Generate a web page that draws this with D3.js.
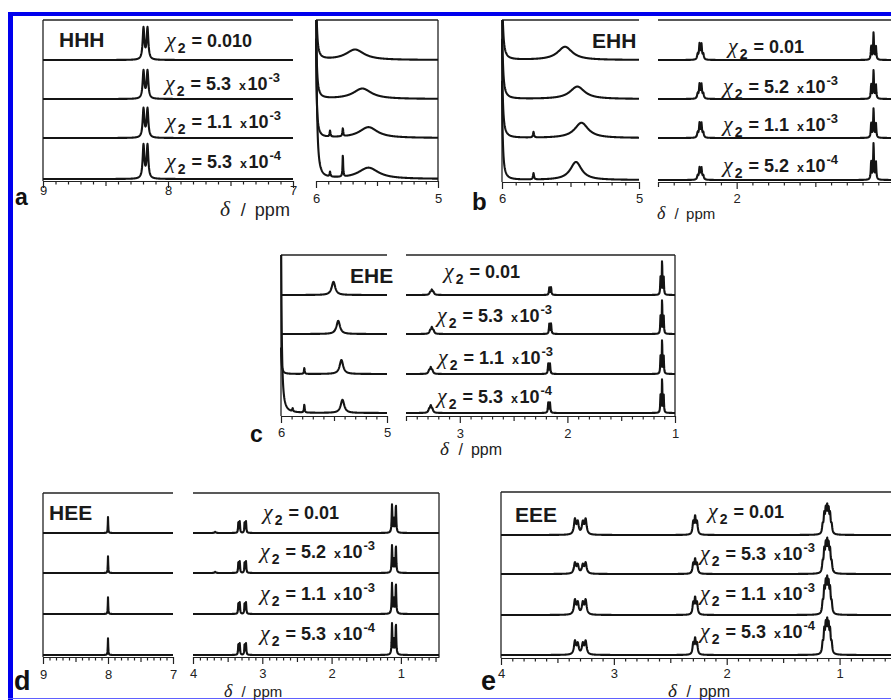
<!DOCTYPE html>
<html>
<head>
<meta charset="utf-8">
<script src="https://cdn.jsdelivr.net/npm/d3@7"></script>
<style>
body { margin: 0; background: #fff; }
svg { display: block; }
.trace { fill: none; stroke: #141414; stroke-width: 2.1; stroke-linejoin: round; }
.frame { stroke: #222; stroke-width: 1.3; fill: none; }
.axis path, .axis line { stroke: #222; stroke-width: 1.2; }
.axis text { font-family: "Liberation Sans", Arial, sans-serif; font-size: 13px; fill: #222; }
.name { font-family: "Liberation Sans", Arial, sans-serif; font-weight: bold; font-size: 21px; fill: #1a1a1a; }
.chi { font-family: "Liberation Sans", Arial, sans-serif; font-weight: bold; font-size: 18px; fill: #1a1a1a; }
.chiSym { font-family: "Liberation Serif", "DejaVu Serif", serif; font-style: italic; font-weight: normal; font-size: 22px; }
.letter { font-family: "Liberation Sans", Arial, sans-serif; font-weight: bold; fill: #111; }
.unit { font-family: "Liberation Sans", Arial, sans-serif; fill: #222; }
.delta { font-family: "Liberation Serif", "DejaVu Serif", serif; font-style: italic; }
</style>
</head>
<body>
<svg id="chart" width="891" height="700"></svg>
<script>
// multiplet line patterns: [offset in ppm, relative intensity]
const patterns = {
  s: [[0, 1]],
  d: [[-0.016, 1], [0.016, 1]],
  pair: [[-0.008, 1], [0.008, 1]],
  q: [[-0.018, 1], [-0.006, 3], [0.006, 3], [0.018, 1]],
  t: [[-0.015, 1], [0, 2], [0.015, 1]],
  t3: [[-0.017, 0.7], [0, 1], [0.017, 0.7]],
  m4: [[-0.05, 1], [-0.025, 0.8], [0.02, 0.8], [0.045, 1]],
  m5: [[-0.04, 0.35], [-0.026, 0.75], [-0.013, 0.9], [0, 1], [0.013, 0.9], [0.026, 0.75], [0.04, 0.35]],
  qq: [[-0.055, 1], [-0.035, 1], [0.035, 1], [0.055, 1]],
  tt: [[-0.028, 1.5], [0, 0.7], [0.028, 1.5]]
};

// peaks per trace: [ppm, height (fraction of strip), half width (ppm), pattern]
// a  HHH
const hhhLow = [
  [[8.18, 0.83, 0.008, "d"]],
  [[8.18, 0.73, 0.008, "d"]],
  [[8.18, 0.76, 0.008, "d"]],
  [[8.18, 0.88, 0.008, "d"]]
];
const hhhVinyl = [
  [[6.01, 30, 0.003, "s"], [5.68, 0.26, 0.09, "s"]],
  [[6.01, 30, 0.003, "s"], [5.62, 0.26, 0.09, "s"]],
  [[6.01, 30, 0.003, "s"], [5.885, 0.15, 0.004, "s"], [5.78, 0.2, 0.004, "s"], [5.57, 0.27, 0.09, "s"]],
  [[6.01, 40, 0.004, "s"], [5.885, 0.12, 0.004, "s"], [5.78, 0.55, 0.003, "s"], [5.57, 0.28, 0.1, "s"]]
];
// b  EHH
const ehhVinyl = [
  [[6.01, 30, 0.003, "s"], [5.54, 0.33, 0.065, "s"]],
  [[6.01, 30, 0.003, "s"], [5.45, 0.31, 0.065, "s"]],
  [[6.01, 30, 0.003, "s"], [5.77, 0.14, 0.004, "s"], [5.42, 0.38, 0.06, "s"]],
  [[6.01, 30, 0.003, "s"], [5.77, 0.16, 0.004, "s"], [5.46, 0.45, 0.05, "s"]]
];
const ehhAlkyl = [
  [[2.23, 0.43, 0.004, "q"], [1.13, 0.70, 0.003, "t"]],
  [[2.23, 0.40, 0.004, "q"], [1.13, 0.73, 0.003, "t"]],
  [[2.23, 0.40, 0.004, "q"], [1.13, 0.75, 0.003, "t"]],
  [[2.23, 0.33, 0.004, "q"], [1.13, 0.93, 0.003, "t"]]
];
// c  EHE
const eheVinyl = [
  [[5.505, 0.33, 0.02, "s"]],
  [[5.46, 0.33, 0.02, "s"]],
  [[6.01, 8, 0.003, "s"], [5.78, 0.15, 0.004, "s"], [5.43, 0.35, 0.02, "s"]],
  [[6.01, 40, 0.004, "s"], [5.89, 0.08, 0.004, "s"], [5.78, 0.2, 0.004, "s"], [5.42, 0.33, 0.02, "s"]]
];
const eheAlkyl = [
  [[3.26, 0.14, 0.008, "t"], [2.16, 0.2, 0.004, "pair"], [1.12, 0.9, 0.003, "t"]],
  [[3.26, 0.18, 0.008, "t"], [2.16, 0.27, 0.004, "pair"], [1.12, 0.9, 0.003, "t"]],
  [[3.27, 0.18, 0.008, "t"], [2.17, 0.27, 0.004, "pair"], [1.12, 0.9, 0.003, "t"]],
  [[3.27, 0.2, 0.008, "t"], [2.17, 0.27, 0.004, "pair"], [1.12, 0.9, 0.003, "t"]]
];
// d  HEE
const heeLow = [
  [[8.0, 0.40, 0.004, "s"]],
  [[8.0, 0.42, 0.004, "s"]],
  [[8.0, 0.42, 0.004, "s"]],
  [[8.0, 0.42, 0.004, "s"]]
];
const heeAlkyl = [
  [[3.68, 0.03, 0.01, "s"], [3.29, 0.3, 0.005, "qq"], [1.10, 0.72, 0.006, "tt"]],
  [[3.68, 0.03, 0.01, "s"], [3.29, 0.3, 0.005, "qq"], [1.10, 0.70, 0.006, "tt"]],
  [[3.29, 0.3, 0.005, "qq"], [1.10, 0.78, 0.006, "tt"]],
  [[3.29, 0.3, 0.005, "qq"], [1.10, 0.80, 0.006, "tt"]]
];
// e  EEE
const eeeAlkyl = [
  [[3.30, 0.42, 0.01, "m4"], [2.28, 0.50, 0.007, "t3"], [1.11, 0.80, 0.006, "m5"]],
  [[3.30, 0.30, 0.01, "m4"], [2.28, 0.40, 0.007, "t3"], [1.11, 0.92, 0.006, "m5"]],
  [[3.30, 0.40, 0.01, "m4"], [2.28, 0.47, 0.007, "t3"], [1.11, 1.00, 0.006, "m5"]],
  [[3.30, 0.37, 0.01, "m4"], [2.28, 0.45, 0.007, "t3"], [1.11, 0.95, 0.006, "m5"]]
];

// chi_2 labels: [value, exponent]
const hhhChi = [["0.010", null], ["5.3", "-3"], ["1.1", "-3"], ["5.3", "-4"]];
const ehhChi = [["0.01", null], ["5.2", "-3"], ["1.1", "-3"], ["5.2", "-4"]];
const eheChi = [["0.01", null], ["5.3", "-3"], ["1.1", "-3"], ["5.3", "-4"]];
const heeChi = [["0.01", null], ["5.2", "-3"], ["1.1", "-3"], ["5.3", "-4"]];
const eeeChi = [["0.01", null], ["5.3", "-3"], ["1.1", "-3"], ["5.3", "-4"]];

// tick labels
const ticksArom = [9, 8, 7];
const ticksVinyl = [6, 5];
const ticksB = [2];
const ticksC = [3, 2, 1];
const ticksD = [4, 3, 2, 1];
const ticksE = [4, 3, 2, 1];

const panels = [
  {name: "HHH", nameX: 59, nameY: 47, top: 20, axisY: 181, base: [60, 99, 138, 179],
   letter: "a", letterX: 15, letterY: 205, letterSize: 23,
   chi: hhhChi, chiX: [166, 165, 166, 166], chiY: [47, 90, 128, 168],
   unit: {x: 220, y: 216, size: 18},
   subs: [{x0: 43, x1: 293, dom: [9, 7], peaks: hhhLow, labels: ticksArom, labY: 195, left: true},
          {x0: 316, x1: 438, dom: [6, 5], peaks: hhhVinyl, labels: ticksVinyl, labY: 203, right: true}]},
  {name: "EHH", nameX: 592, nameY: 48, top: 20, axisY: 182, base: [60, 99, 138, 180],
   letter: "b", letterX: 472, letterY: 210, letterSize: 24,
   chi: ehhChi, chiX: [728, 723, 723, 723], chiY: [53, 93, 131, 172],
   unit: {x: 657, y: 219, size: 15},
   subs: [{x0: 502, x1: 639, dom: [6, 5], peaks: ehhVinyl, labels: ticksVinyl, labY: 203, left: true},
          {x0: 658, x1: 894, dom: [2.5, 1.0], peaks: ehhAlkyl, labels: ticksB, labY: 203}]},
  {name: "EHE", nameX: 350, nameY: 283, top: 255, axisY: 416, base: [295, 334, 374, 413],
   letter: "c", letterX: 250, letterY: 442, letterSize: 23,
   chi: eheChi, chiX: [444, 437, 438, 437], chiY: [278, 322, 364, 403],
   unit: {x: 440, y: 455, size: 16},
   subs: [{x0: 281, x1: 387, dom: [6, 5], peaks: eheVinyl, labels: ticksVinyl, labY: 437, left: true},
          {x0: 406, x1: 675, dom: [3.5, 1.0], peaks: eheAlkyl, labels: ticksC, labY: 438, right: true}]},
  {name: "HEE", nameX: 49, nameY: 520, top: 493, axisY: 657, base: [533, 573, 614, 655],
   letter: "d", letterX: 14, letterY: 690, letterSize: 27,
   chi: heeChi, chiX: [263, 260, 260, 260], chiY: [519, 558, 600, 640],
   unit: {x: 224, y: 697, size: 15},
   subs: [{x0: 43, x1: 173, dom: [9, 7], peaks: heeLow, labels: ticksArom, labY: 679, left: true},
          {x0: 193, x1: 439, dom: [4, 0.45], peaks: heeAlkyl, labels: ticksD, labY: 678, right: true}]},
  {name: "EEE", nameX: 515, nameY: 522, top: 492, axisY: 658, base: [535, 574, 615, 655],
   letter: "e", letterX: 481, letterY: 690, letterSize: 27,
   chi: eeeChi, chiX: [708, 700, 700, 700], chiY: [518, 560, 600, 638],
   unit: {x: 668, y: 697, size: 16},
   subs: [{x0: 501, x1: 896, dom: [4, 0.5], peaks: eeeAlkyl, labels: ticksE, labY: 678, left: true}]}
];

const svg = d3.select("#chart");
const stripH = 40;

// blue border
svg.append("rect").attr("x", 8).attr("y", 12).attr("width", 883).attr("height", 4).attr("fill", "#0000ee");
svg.append("rect").attr("x", 8).attr("y", 12).attr("width", 5).attr("height", 688).attr("fill", "#0000ee");
svg.append("line").attr("x1", 8).attr("x2", 891).attr("y1", 698.5).attr("y2", 698.5)
  .attr("stroke", "#6060ff").attr("stroke-width", 1);

function lorentz(x, c, w) { return w * w / ((x - c) * (x - c) + w * w); }

const normCache = {};
function norm(p, w) {
  const key = p + ":" + w;
  if (normCache[key]) return normCache[key];
  let m = 0;
  for (let x = -0.2; x <= 0.2; x += 0.0002) {
    let s = 0;
    for (const [off, rel] of patterns[p]) s += rel * lorentz(x, off, w);
    if (s > m) m = s;
  }
  normCache[key] = m;
  return m;
}

function intensity(ppm, peaks) {
  let s = 0;
  for (const [c, h, w, p] of peaks) {
    const k = h / norm(p, w);
    for (const [off, rel] of patterns[p]) s += k * rel * lorentz(ppm, c + off, w);
  }
  return s;
}

function chiLabel(g, x, y, val, exp) {
  const t = g.append("text").attr("class", "chi").attr("x", x).attr("y", y);
  t.append("tspan").attr("class", "chiSym").text("χ");
  t.append("tspan").attr("dx", 2).attr("dy", 6).attr("font-size", 14).text("2");
  t.append("tspan").attr("dx", 6).attr("dy", -6).text("=");
  t.append("tspan").attr("dx", 5).text(val);
  if (exp) {
    t.append("tspan").attr("dx", 8).attr("font-size", 12.5).text("x");
    t.append("tspan").attr("dx", 1.5).text("10");
    t.append("tspan").attr("dx", 1).attr("dy", -8).attr("font-size", 13).text(exp);
  }
}

panels.forEach((P, pi) => {
  const g = svg.append("g");

  P.subs.forEach((S, si) => {
    const x = d3.scaleLinear().domain(S.dom).range([S.x0, S.x1]);
    const clipId = "clip" + pi + "_" + si;
    svg.append("clipPath").attr("id", clipId).append("rect")
      .attr("x", S.x0 - 1).attr("y", P.top).attr("width", S.x1 - S.x0 + 2).attr("height", P.axisY - P.top + 1);

    // frame
    g.append("line").attr("class", "frame")
      .attr("x1", S.x0).attr("x2", S.x1).attr("y1", P.top).attr("y2", P.top);
    if (S.left) g.append("line").attr("class", "frame")
      .attr("x1", S.x0).attr("x2", S.x0).attr("y1", P.top).attr("y2", P.axisY);
    if (S.right) g.append("line").attr("class", "frame")
      .attr("x1", S.x1).attr("x2", S.x1).attr("y1", P.top).attr("y2", P.axisY);

    // ticks every 0.1 ppm
    const hi = Math.max(...S.dom), lo = Math.min(...S.dom);
    const all = d3.range(Math.round(lo * 10), Math.round(hi * 10) + 1).map(v => v / 10);
    const minor = all.filter(v => Math.abs(v * 2 - Math.round(v * 2)) > 1e-6);
    const half = all.filter(v => Math.abs(v * 2 - Math.round(v * 2)) < 1e-6 && Math.abs(v - Math.round(v)) > 1e-6);
    const major = all.filter(v => Math.abs(v - Math.round(v)) < 1e-6);

    const ax = g.append("g").attr("class", "axis").attr("transform", `translate(0,${P.axisY})`);
    ax.call(d3.axisBottom(x).tickValues(minor).tickSize(3.5).tickSizeOuter(0).tickFormat(""));
    const ax2 = g.append("g").attr("class", "axis").attr("transform", `translate(0,${P.axisY})`);
    ax2.call(d3.axisBottom(x).tickValues(half).tickSize(5).tickSizeOuter(0).tickFormat(""));
    ax2.select(".domain").remove();
    const ax3 = g.append("g").attr("class", "axis").attr("transform", `translate(0,${P.axisY})`);
    ax3.call(d3.axisBottom(x).tickValues(major).tickSize(7).tickSizeOuter(0)
      .tickFormat(d => S.labels.includes(d) ? d3.format("d")(d) : ""));
    ax3.select(".domain").remove();
    ax3.selectAll("text").attr("y", S.labY - P.axisY).attr("dy", 0);

    // traces
    const n = Math.round((S.x1 - S.x0) * 4);
    S.peaks.forEach((peaks, ti) => {
      const y = d3.scaleLinear().domain([0, 1]).range([P.base[ti], P.base[ti] - stripH]);
      const pts = d3.range(n + 1).map(i => {
        const ppm = x.invert(S.x0 + i / 4);
        return [ppm, intensity(ppm, peaks)];
      });
      g.append("path").attr("class", "trace").attr("clip-path", `url(#${clipId})`)
        .attr("d", d3.line().x(d => x(d[0])).y(d => y(d[1]))(pts));
    });
  });

  // texts
  g.append("text").attr("class", "name").attr("x", P.nameX).attr("y", P.nameY).text(P.name);
  P.chi.forEach((c, i) => chiLabel(g, P.chiX[i], P.chiY[i], c[0], c[1]));
  g.append("text").attr("class", "letter").attr("x", P.letterX).attr("y", P.letterY)
    .attr("font-size", P.letterSize).text(P.letter);
  const u = g.append("text").attr("class", "unit").attr("x", P.unit.x).attr("y", P.unit.y)
    .attr("font-size", P.unit.size);
  u.append("tspan").attr("class", "delta").attr("font-size", P.unit.size * 1.2).text("δ");
  u.append("tspan").attr("dx", P.unit.size * 0.6).text("/");
  u.append("tspan").attr("dx", P.unit.size * 0.5).text("ppm");
});
</script>
</body>
</html>
